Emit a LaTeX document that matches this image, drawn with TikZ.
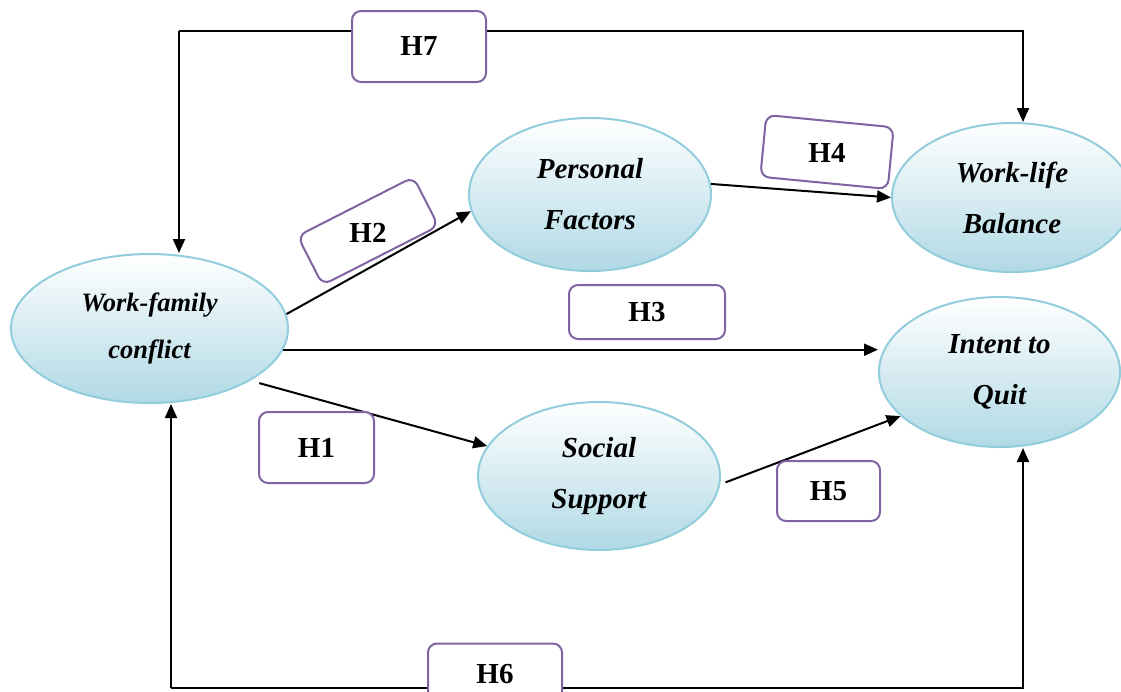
\documentclass[tikz,border=0pt]{standalone}
\usepackage{fontspec}
\setmainfont{Liberation Serif}
\usetikzlibrary{shapes.geometric,arrows.meta}
\definecolor{ellborder}{RGB}{146,205,220}
\definecolor{ellbottom}{RGB}{176,217,229}
\definecolor{boxpurple}{RGB}{128,100,162}
\begin{document}
\begin{tikzpicture}[x=1pt,y=-1pt,
  concept/.style={ellipse, draw=ellborder, line width=2pt, top color=white, bottom color=ellbottom, inner sep=0pt, align=center},
  bigtext/.style={font=\fontsize{29}{51}\selectfont\bfseries\itshape},
  smalltext/.style={font=\fontsize{26.5}{47}\selectfont\bfseries\itshape},
  hbox/.style={draw=boxpurple, line width=2pt, rounded corners=9pt, fill=white, inner sep=0pt, font=\fontsize{29}{30}\selectfont\bfseries},
  htext/.style={inner sep=0pt, font=\fontsize{29}{30}\selectfont\bfseries},
  link/.style={line width=2pt, -{Triangle[length=14pt,width=12pt]}},
]
\useasboundingbox (0,0) rectangle (1121,691);
\begin{scope}
\clip (0,0) rectangle (1121,691);
% concepts
\node[concept, smalltext, minimum width=277pt, minimum height=149pt] (wfc) at (149.5,328.5) {Work-family\\conflict};
\node[concept, bigtext, minimum width=242pt, minimum height=153pt] (pf) at (590,194.5) {Personal\\Factors};
\node[concept, bigtext, minimum width=240pt, minimum height=149pt] (wlb) at (1012,197.5) {Work-life\\Balance};
\node[concept, bigtext, minimum width=241pt, minimum height=150pt] (iq) at (999.5,372) {Intent to\\Quit};
\node[concept, bigtext, minimum width=242pt, minimum height=148pt] (ss) at (599,476) {Social\\Support};
% corner points
\coordinate (c7a) at (179,31);
\coordinate (c7b) at (1023,31);
\coordinate (c6a) at (171,688);
\coordinate (c6b) at (1023,688);
% connectors
\draw[link] (c7a) -- (c7b) -- (c7b |- wlb.north);
\draw[link] (c7a) -- (c7a |- wfc.north);
\draw[link] (c6a) -- (c6b) -- (c6b |- iq.south);
\draw[link] (c6a) -- (c6a |- wfc.south);
\draw[link] (wfc.6) -- (pf.188.7);
\draw[link] (pf.5.9) -- (wlb.west);
\draw[link] (wfc.351.5) -- (wfc.351.5 -| iq.west);
\draw[link] ([yshift=-8pt]wfc.337) -- (ss.165.7);
\draw[link] ([xshift=5pt]ss.357) -- (iq.204.3);
% hypothesis labels
\node[hbox, minimum width=134pt, minimum height=71pt] (h7) at (419,46.5) {H7};
\node[hbox, minimum width=130pt, minimum height=55pt, rotate=27] (h2box) at (368,231) {};
\node[htext] (h2) at (368,233) {H2};
\node[hbox, minimum width=128pt, minimum height=62pt, rotate=-5.5] (h4box) at (827,152) {};
\node[htext] (h4) at (827,153) {H4};
\node[hbox, minimum width=156pt, minimum height=54pt] (h3) at (647,312) {H3};
\node[hbox, minimum width=115pt, minimum height=71pt] (h1) at (316.5,447.5) {H1};
\node[hbox, minimum width=103pt, minimum height=60pt] (h5) at (828.5,491) {H5};
\node[hbox, minimum width=134pt, minimum height=71pt] (h6box) at (495,679) {};
\node[htext] (h6) at (495,674) {H6};
\end{scope}
\end{tikzpicture}
\end{document}
